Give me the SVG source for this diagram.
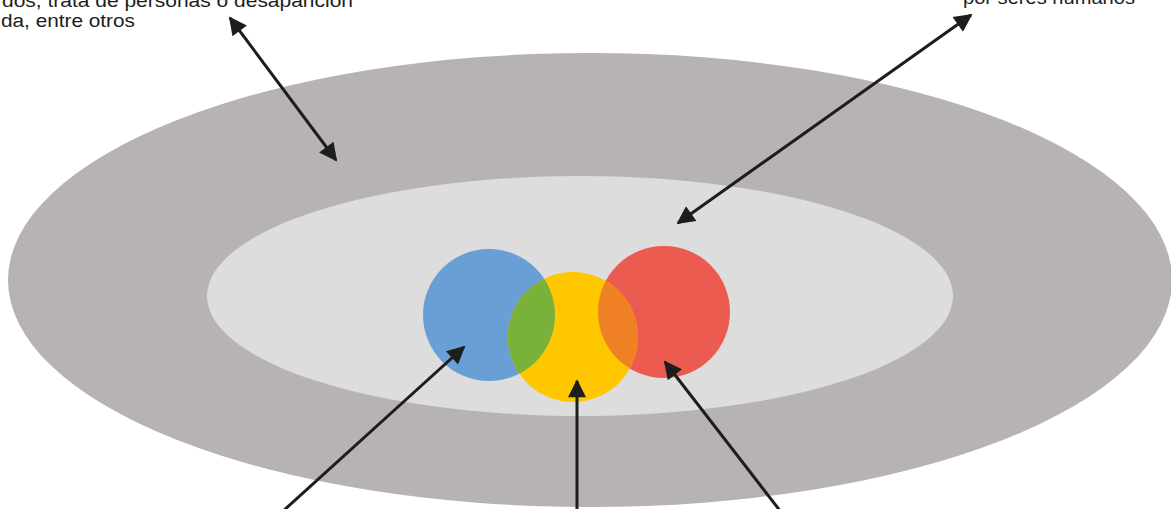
<svg xmlns="http://www.w3.org/2000/svg" width="1171" height="509" viewBox="0 0 1171 509">
  <style>
    .lbl { font-family: "Liberation Sans", "DejaVu Sans", sans-serif; font-size: 18px; fill: #1d1d1b; }
    .conn line { stroke: #1d1d1b; stroke-width: 3; fill: none; }
  </style>
  <defs>
    <marker id="ah" viewBox="0 0 10 10" refX="9" refY="5" markerWidth="6.5" markerHeight="6" orient="auto-start-reverse" markerUnits="strokeWidth">
      <path d="M0,0 L10,5 L0,10 z" fill="#1d1d1b"/>
    </marker>
    <clipPath id="clipBlue"><circle cx="489" cy="315" r="66"/></clipPath>
    <clipPath id="clipRed"><circle cx="664" cy="312" r="66"/></clipPath>
  </defs>
  <rect width="1171" height="509" fill="#ffffff"/>
  <g id="outer-ring"><ellipse cx="590" cy="280" rx="582" ry="227" fill="#b7b3b2"/></g>
  <g id="inner-ring"><ellipse cx="580" cy="296" rx="373" ry="120" fill="#dddddd"/></g>
  <g id="circle-blue"><circle cx="489" cy="315" r="66" fill="#6a9fd6"/></g>
  <g id="circle-red"><circle cx="664" cy="312" r="66" fill="#ec5b4f"/></g>
  <g id="circle-yellow">
    <circle cx="573" cy="337" r="65" fill="#ffc700"/>
    <circle cx="573" cy="337" r="65" fill="#7ab13a" clip-path="url(#clipBlue)"/>
    <circle cx="573" cy="337" r="65" fill="#f08024" clip-path="url(#clipRed)"/>
  </g>
  <g id="label-left">
    <text class="lbl" x="2" y="7" textLength="351" lengthAdjust="spacingAndGlyphs">dos, trata de personas o desaparición</text>
    <text class="lbl" x="1" y="27" textLength="134" lengthAdjust="spacingAndGlyphs">da, entre otros</text>
  </g>
  <g id="label-right">
    <text class="lbl" x="963" y="4" textLength="172" lengthAdjust="spacingAndGlyphs">por seres humanos</text>
  </g>
  <g id="connectors" class="conn">
    <line x1="230" y1="18" x2="336" y2="160" marker-start="url(#ah)" marker-end="url(#ah)"/>
    <line x1="971" y1="15" x2="678" y2="223" marker-start="url(#ah)" marker-end="url(#ah)"/>
    <line x1="282" y1="512" x2="464" y2="347" marker-end="url(#ah)"/>
    <line x1="577" y1="512" x2="577" y2="381" marker-end="url(#ah)"/>
    <line x1="781" y1="512" x2="665" y2="362" marker-end="url(#ah)"/>
  </g>
</svg>
